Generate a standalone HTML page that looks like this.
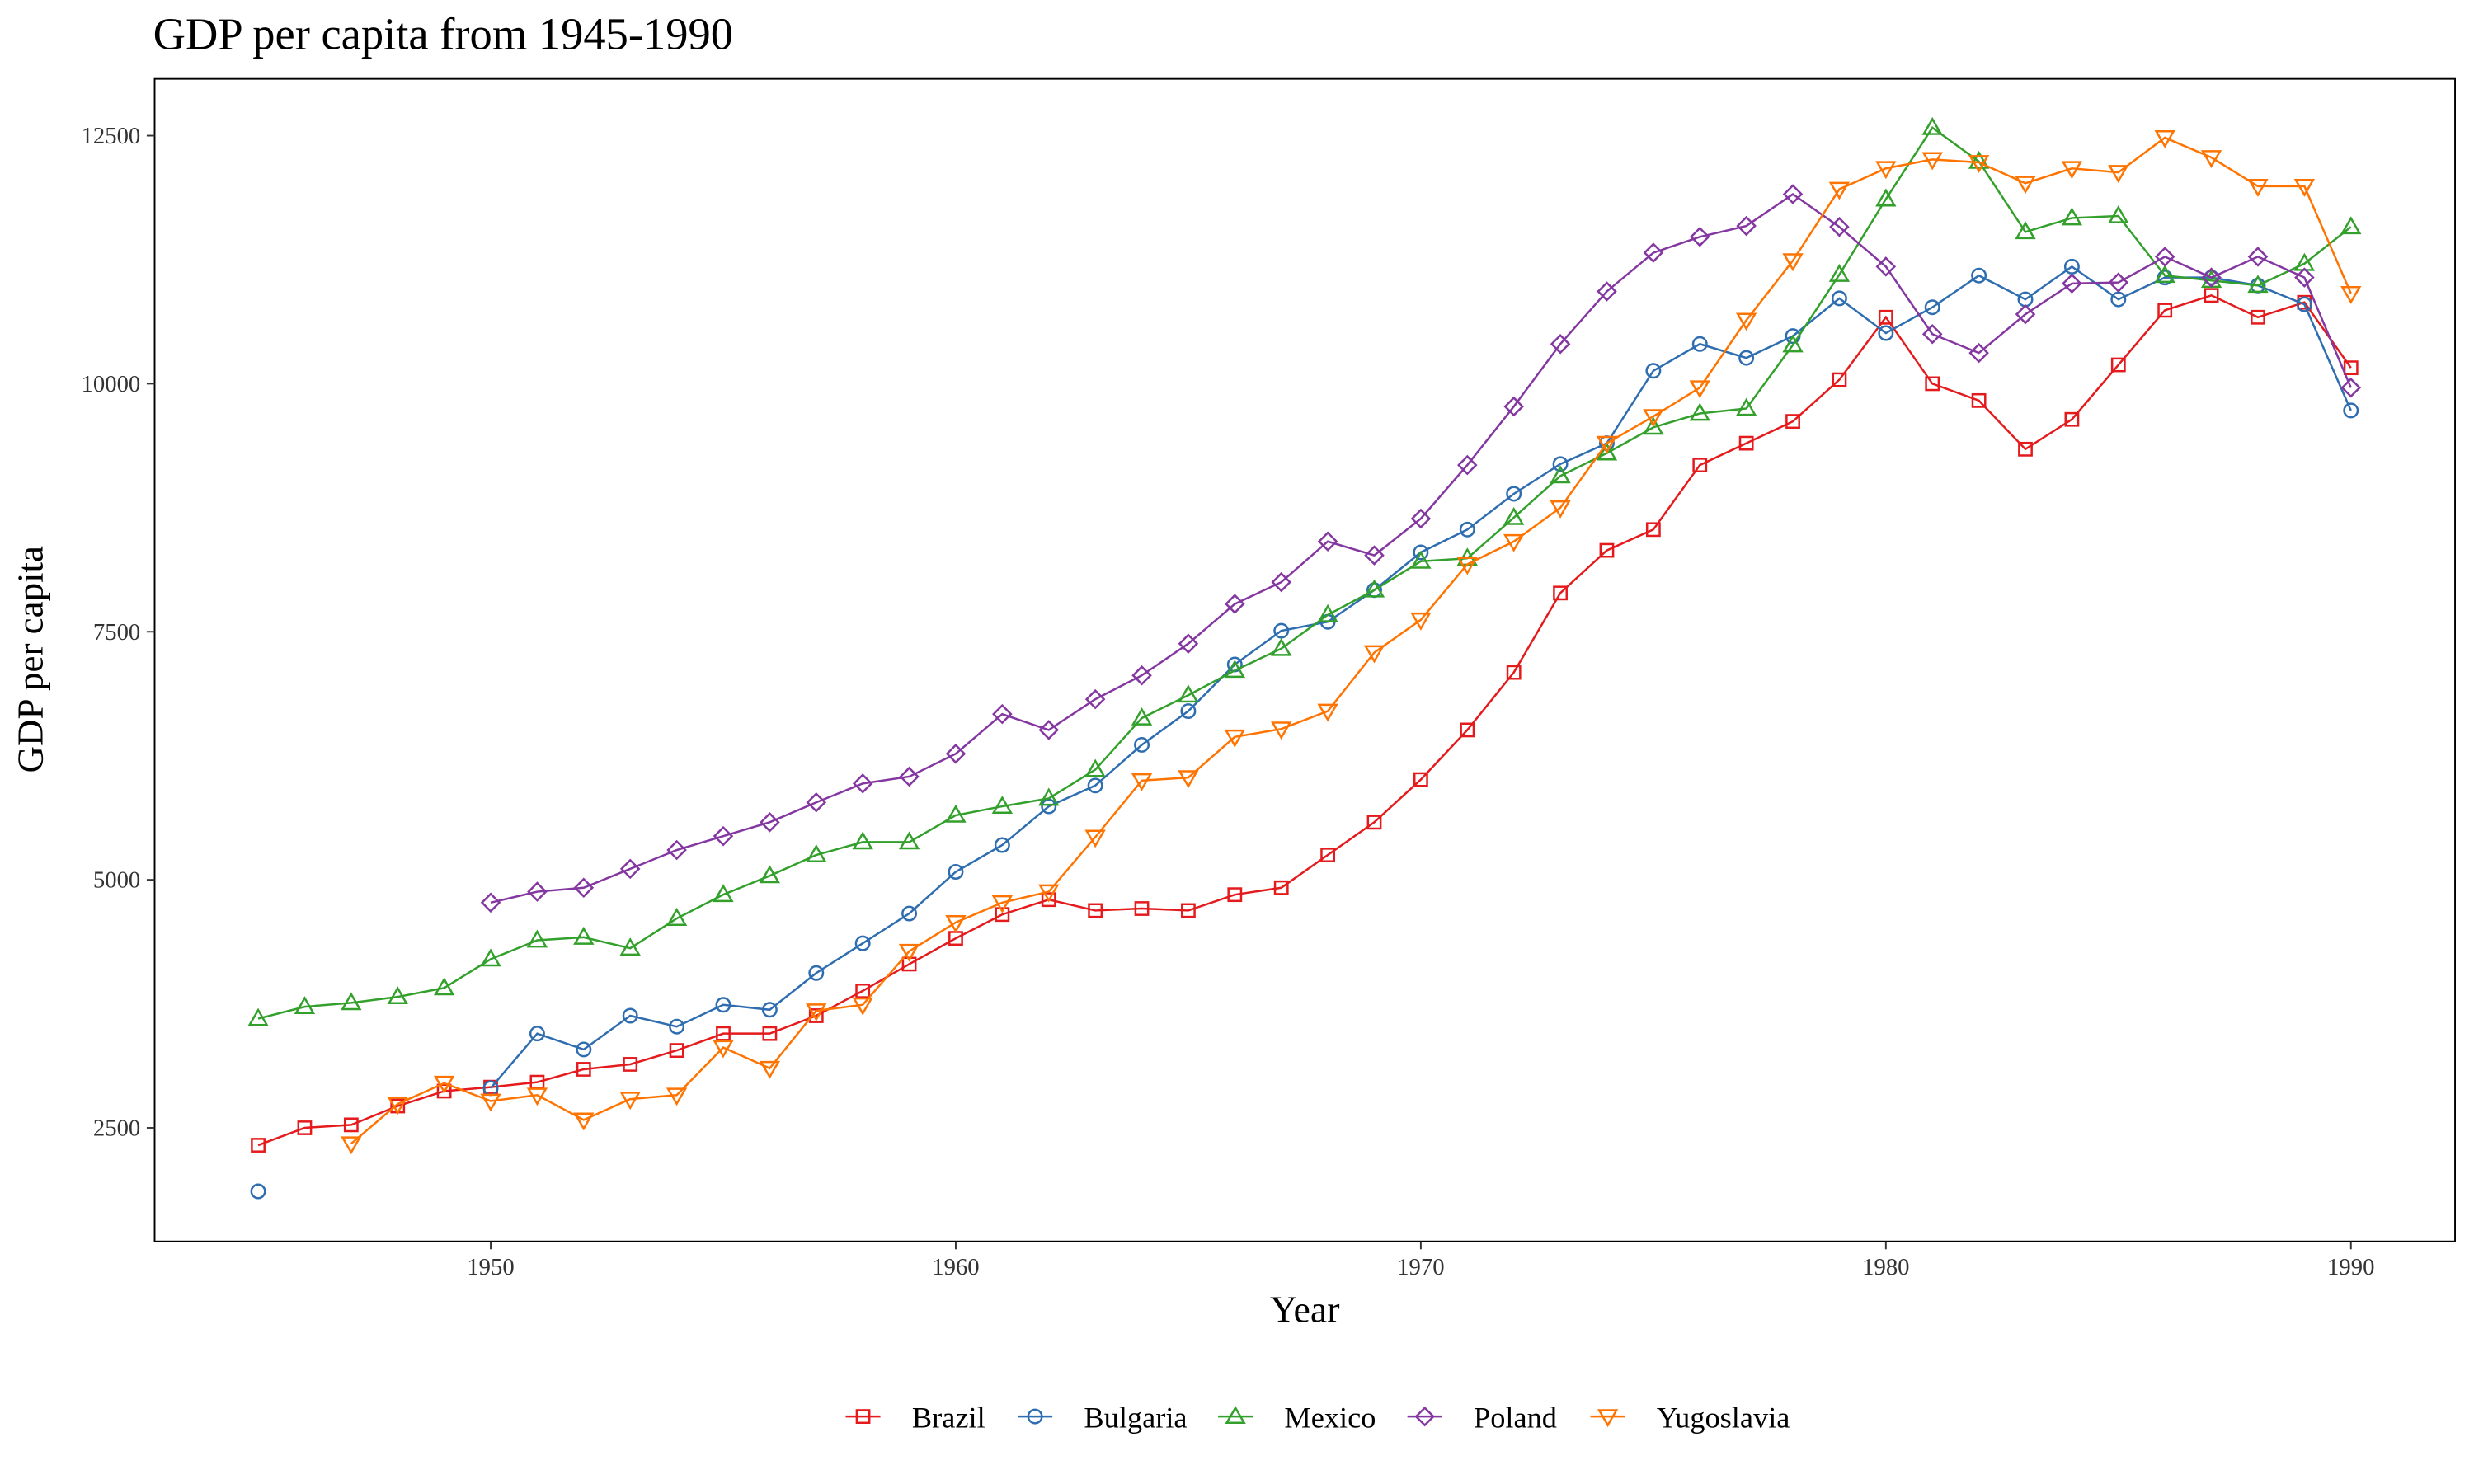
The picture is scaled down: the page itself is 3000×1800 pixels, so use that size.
<!DOCTYPE html>
<html><head><meta charset="utf-8"><style>
html,body{margin:0;padding:0;background:#fff;}
svg{display:block;}
text{font-family:"Liberation Serif",serif;}
</style></head><body>
<svg id="chart" width="3000" height="1800" viewBox="0 0 1568 940.8" xmlns="http://www.w3.org/2000/svg">
<rect x="0" y="0" width="1568" height="940.8" fill="#fff"/>
<text x="97" y="31" font-size="28.5" fill="#000">GDP per capita from 1945-1990</text>
<rect x="98" y="50" width="1458" height="737" fill="none" stroke="#000" stroke-width="1"/>
<g id="axes"></g>
<g id="series"></g>
<text x="827" y="838" font-size="24" text-anchor="middle">Year</text>
<text transform="translate(27,418) rotate(-90)" font-size="23.5" text-anchor="middle">GDP per capita</text>
<g id="legend"></g>
</svg>
<script>
const years = Array.from({length:46},(_,i)=>1945+i);
const brazil = [2325,2500,2530,2720,2870,2910,2960,3090,3140,3280,3450,3450,3630,3880,4150,4410,4650,4800,4690,4710,4690,4850,4920,5250,5580,6010,6510,7090,7890,8320,8530,9180,9400,9620,10040,10670,10000,9830,9340,9640,10190,10740,10890,10670,10820,10160];
const bulgaria = [1860,null,null,null,null,2900,3450,3290,3630,3520,3740,3690,4060,4360,4660,5080,5350,5740,5950,6360,6700,7170,7510,7600,7920,8300,8530,8890,9190,9400,10130,10400,10260,10480,10860,10510,10770,11090,10850,11180,10850,11070,11070,10990,10800,9730];
const mexico = [3600,3720,3760,3820,3910,4200,4390,4420,4310,4610,4850,5040,5250,5380,5380,5650,5740,5820,6110,6630,6860,7110,7330,7670,7920,8210,8240,8650,9070,9300,9560,9700,9750,10390,11100,11860,12580,12240,11530,11670,11690,11090,11040,10990,11210,11580];
const poland = [null,null,null,null,null,4770,4880,4920,5110,5300,5440,5580,5780,5970,6040,6270,6670,6510,6820,7060,7380,7780,8000,8410,8270,8640,9180,9770,10400,10930,11320,11480,11590,11910,11580,11180,10500,10310,10700,11010,11020,11280,11070,11280,11070,9960];
const yugoslavia = [null,null,2340,2740,2950,2770,2830,2580,2790,2830,3310,3100,3680,3740,4280,4570,4770,4880,5430,6000,6030,6440,6520,6700,7290,7620,8180,8410,8750,9400,9670,9960,10640,11240,11960,12170,12260,12230,12020,12170,12130,12480,12280,11990,11990,10910];
const seriesNames = ["Brazil","Bulgaria","Mexico","Poland","Yugoslavia"];
const xTicks = [1950,1960,1970,1980,1990];
const yTicks = [2500,5000,7500,10000,12500];

const NS="http://www.w3.org/2000/svg";
const X = v => 311 + (v-1950)*29.475;
const Y = v => 715 - (v-2500)/10000*629;
const colors = ["#E41A1C","#2E6DB0","#33A02C","#8437A0","#FF7400"];
const shapes = ["square","circle","triangle","diamond","tri-down"];
function mk(tag, attrs, parent){const e=document.createElementNS(NS,tag);for(const k in attrs)e.setAttribute(k,attrs[k]);parent.appendChild(e);return e;}
function marker(shape,x,y,c,parent){
  const st={fill:"none",stroke:c,"stroke-width":1.3};
  let e;
  if(shape==="square") e=mk("rect",Object.assign({x:x-4,y:y-4,width:8,height:8},st),parent);
  else if(shape==="circle") e=mk("circle",Object.assign({cx:x,cy:y,r:4.3},st),parent);
  else if(shape==="triangle") e=mk("polygon",Object.assign({points:`${x},${y-5.5} ${x+5.5},${y+4} ${x-5.5},${y+4}`},st),parent);
  else if(shape==="diamond") e=mk("polygon",Object.assign({points:`${x},${y-5.5} ${x+5.5},${y} ${x},${y+5.5} ${x-5.5},${y}`},st),parent);
  else e=mk("polygon",Object.assign({points:`${x},${y+5.5} ${x+5.5},${y-4} ${x-5.5},${y-4}`},st),parent);
  return e;
}
const axes=document.getElementById("axes");
xTicks.forEach(t=>{
  const l=mk("line",{x1:X(t),x2:X(t),y1:787,y2:792,stroke:"#333","stroke-width":1},axes);
  
  
  const tx=mk("text",{x:X(t),y:808,"font-size":15,"text-anchor":"middle",fill:"#333"},axes);
  tx.textContent=t;
  
  
});
yTicks.forEach(t=>{
  const l=mk("line",{x1:93,x2:98,y1:Y(t),y2:Y(t),stroke:"#333","stroke-width":1},axes);
  
  
  const tx=mk("text",{x:89,y:Y(t)+5,"font-size":15,"text-anchor":"end",fill:"#333"},axes);
  tx.textContent=t;
  
  
});
const data=[brazil,bulgaria,mexico,poland,yugoslavia];
const sg=document.getElementById("series");
data.forEach((arr,si)=>{
  const g=mk("g",{},sg);
  
  
  let segs=[],cur=[];
  arr.forEach((v,i)=>{ if(v==null){if(cur.length)segs.push(cur);cur=[];} else cur.push([X(years[i]),Y(v)]); });
  if(cur.length)segs.push(cur);
  segs.forEach(s=>{ if(s.length>1){const p=mk("polyline",{points:s.map(q=>q.join(",")).join(" "),fill:"none",stroke:colors[si],"stroke-width":1.3},g);
    
    }});
  arr.forEach((v,i)=>{ if(v==null)return; const m=marker(shapes[si],X(years[i]),Y(v),colors[si],g);
    
    });
});
const lg=document.getElementById("legend");
const legX=[547,656,783,903,1019];
seriesNames.forEach((n,i)=>{
  const g=mk("g",{},lg);
  
  
  mk("line",{x1:legX[i]-11,x2:legX[i]+11,y1:898,y2:898,stroke:colors[i],"stroke-width":1.3},g);
  marker(shapes[i],legX[i],898,colors[i],g);
  const t=mk("text",{x:legX[i]+31,y:905,"font-size":19},g);
  t.textContent=n;
});
</script>
</body></html>
